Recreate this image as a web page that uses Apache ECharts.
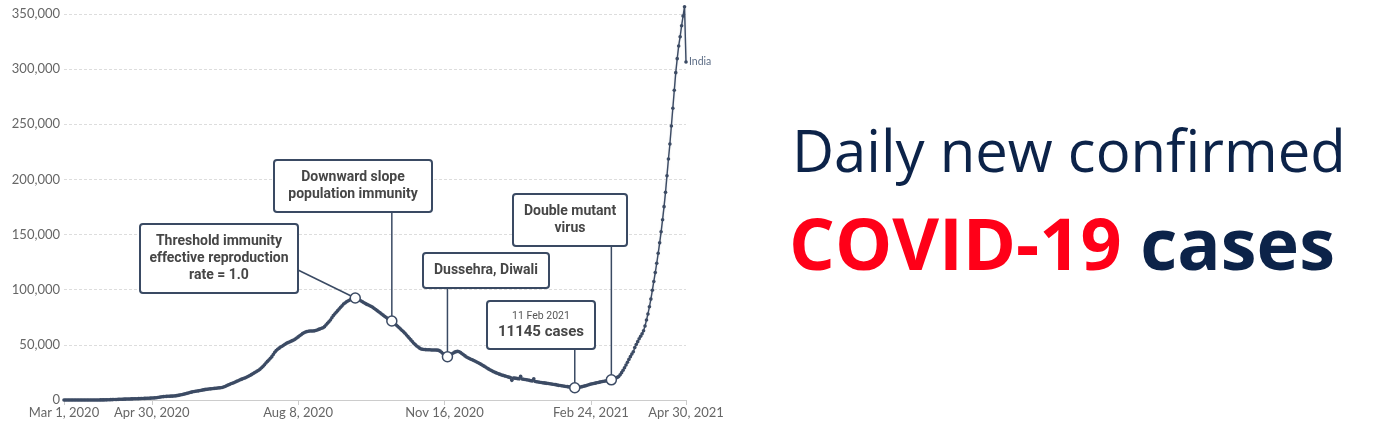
<!DOCTYPE html>
<html>
<head>
<meta charset="utf-8">
<script src="https://cdn.jsdelivr.net/npm/echarts@6/dist/echarts.min.js"></script>
<style>
html,body{margin:0;padding:0;background:#fff;}
#chart{width:1400px;height:425px;}
</style>
</head>
<body>
<div id="chart"></div>
<script>
// ---- Data: 7-day average of daily new confirmed cases, India, one value per day from Mar 1, 2020 ----
const mar2020 = [0,0,1,4,4,4,4,5,6,6,6,7,8,9,10,11,12,13,18,24,29,37,48,56,66,78,94,110,125,140,160];
const apr2020 = [250,300,360,420,470,520,570,620,680,730,780,820,860,900,940,980,1030,1080,1130,1180,1230,1290,1340,1400,1450,1500,1560,1620,1680,1750];
const may2020 = [1850,1950,2100,2300,2550,2750,2950,3100,3200,3300,3400,3450,3500,3550,3600,3750,3950,4200,4450,4700,5000,5350,5700,6050,6400,6750,7100,7450,7700,7900,8100];
const jun2020 = [8300,8600,8900,9150,9400,9600,9800,9950,10100,10250,10400,10550,10700,10850,11000,11150,11400,11800,12300,12900,13500,14100,14700,15200,15700,16300,16900,17500,18100,18700];
const jul2020 = [19200,19700,20200,20800,21500,22200,23000,23800,24600,25400,26200,27000,28000,29200,30500,32000,33500,35000,36300,37800,39300,41300,43300,44800,46000,47000,48000,48800,49600,50500,51500];
const aug2020 = [52000,52600,53200,53800,54400,55200,56200,57200,58200,59200,60200,61000,61600,62000,62300,62500,62600,62600,62700,63000,63500,64000,64500,65000,65500,66500,68000,69500,71000,72500,74500];
const sep2020 = [76500,78000,79500,81000,82500,84000,85500,87000,88000,89000,89800,90500,91200,91800,92300,92500,92200,91500,90700,89800,89000,88200,87400,86700,86100,85500,84800,84000,83000,82000];
const oct2020 = [81000,80000,79000,78000,77000,76000,75000,74000,73200,72400,71600,70500,69300,68000,66800,65500,64300,63000,61800,60500,59000,57500,56000,54500,53000,51500,50200,49000,48000,47000,46200];
const nov2020 = [46000,45800,45700,45600,45500,45500,45400,45400,45300,45300,45200,45000,44300,43200,42000,40800,39700,39300,39600,40500,41600,42600,43400,43900,44100,43800,43000,42000,41000,40000];
const dec2020 = [39000,38300,37600,37000,36400,35800,35200,34500,33800,33100,32300,31500,30700,29900,29000,28200,27400,26700,26000,25400,24800,24200,23700,23200,22700,22300,21900,21500,21100,20700,20300];
const jan2021 = [17800,20000,19800,19600,19400,19200,21500,19000,18800,18600,18400,18100,17800,17500,17200,19200,16800,16500,16300,16100,15900,15700,15500,15300,15100,14900,14700,14500,14300,14100,13900];
const feb2021 = [13500,13300,13100,12900,12700,12500,12300,12100,11900,11700,11500,11300,11145,11200,11350,11550,11800,12100,12400,12800,13200,13600,14000,14400,14700,15000,15300,15600];
const mar2021 = [15900,16200,16500,16800,17000,17200,17400,17600,17900,18300,18800,19300,19900,20500,21200,22900,24800,27000,29300,31700,34200,36800,39300,41600,43800,47500,50300,52900,55500,57800,60000];
const apr2021 = [62800,67100,72500,78000,84500,91500,99500,107500,115500,124000,133000,142500,152500,163500,175300,188300,203400,218500,232100,248400,264500,280800,296800,309500,321000,329400,339400,348200,356600,306500];

const seriesName = 'India';
const firstDay = '2020-03-01';

// x-axis tick positions and labels
const xTickDates  = ['2020-03-01','2020-04-30','2020-08-08','2020-11-16','2021-02-24','2021-04-30'];
const xTickLabels = ['Mar 1, 2020','Apr 30, 2020','Aug 8, 2020','Nov 16, 2020','Feb 24, 2021','Apr 30, 2021'];

// annotations
const annoDates = ['2020-09-16','2020-10-11','2020-11-18','2021-02-13','2021-03-10'];
const annoTexts = [
  'Threshold immunity\neffective reproduction\nrate = 1.0',
  'Downward slope\npopulation immunity',
  'Dussehra, Diwali',
  '{d|11 Feb 2021}\n{c|11145 cases}',
  'Double mutant\nvirus'
];

const titleLine1 = 'Daily new confirmed';
const titleRed = 'COVID-19';
const titleRest = 'cases';

// ---- build ----
function utc(s){ const p = s.split('-').map(Number); return Date.UTC(p[0], p[1]-1, p[2]); }
const day0 = utc(firstDay);
const dayOf = s => Math.round((utc(s) - day0) / 86400000);
const cases = [].concat(mar2020,apr2020,may2020,jun2020,jul2020,aug2020,sep2020,oct2020,nov2020,dec2020,jan2021,feb2021,mar2021,apr2021);
const lineData = cases.map((v,i)=>[i, v]);
const annoData = annoDates.map(s => { const d = dayOf(s); return [d, cases[d]]; });
const xTickDays = xTickDates.map(dayOf);

const lineColor = '#3c4b64';
const chart = echarts.init(document.getElementById('chart'), null, {renderer:'canvas'});

const option = {
  animation: false,
  backgroundColor: '#fff',
  grid: {left: 64, right: 714, top: 14, bottom: 25, containLabel: false},
  xAxis: {
    type: 'value',
    min: xTickDays[0],
    max: xTickDays[xTickDays.length-1],
    axisLine: {show: true, onZero: false, lineStyle: {color: '#cccccc', width: 1}},
    axisTick: {show: true, length: 5, lineStyle: {color: '#cccccc'}, customValues: xTickDays},
    axisLabel: {
      customValues: xTickDays,
      color: '#666666', fontFamily: 'Lato', fontSize: 13, margin: 6,
      formatter: v => { const i = xTickDays.indexOf(Math.round(v)); return i >= 0 ? xTickLabels[i] : ''; }
    },
    splitLine: {show: false}
  },
  yAxis: {
    type: 'value', min: 0, max: 350000, interval: 50000,
    axisLine: {show: false}, axisTick: {show: false},
    axisLabel: {color: '#666666', fontFamily: 'Lato', fontSize: 13, margin: 4,
      formatter: v => v.toLocaleString('en-US')},
    splitLine: {show: true, lineStyle: {color: '#dddddd', type: [3,2], width: 1}}
  },
  series: [
    {
      type: 'line', name: seriesName, data: lineData,
      symbol: 'circle', symbolSize: 3.6, showSymbol: true, showAllSymbol: true,
      lineStyle: {color: lineColor, width: 1.4, shadowColor: 'rgba(60,75,100,0.25)', shadowBlur: 1.5},
      itemStyle: {color: lineColor},
      clip: false, z: 3, silent: true,
      endLabel: {show: true, formatter: seriesName, color: '#5d6d86', fontFamily: 'Lato', fontSize: 10.5, distance: 3},
      emphasis: {disabled: true}
    },
    {
      type: 'scatter', data: annoData, symbol: 'circle', symbolSize: 10,
      itemStyle: {color: '#ffffff', borderColor: lineColor, borderWidth: 1.5, opacity: 1},
      z: 10, silent: true, clip: false, emphasis: {disabled: true}
    }
  ]
};
chart.setOption(option);

// ---- annotation boxes (layout) ----
const boxLayout = [
  {x: 140, y: 224, w: 158, h: 69, anchor: 'right', ay: 270},
  {x: 274, y: 160, w: 158, h: 52, anchor: 'bottom'},
  {x: 423, y: 253, w: 126, h: 35, anchor: 'bottom'},
  {x: 487, y: 301, w: 108, h: 48, anchor: 'bottom'},
  {x: 513, y: 194, w: 114, h: 52, anchor: 'bottom'}
];
const boxColor = '#3a4a63';
const textColor = '#464646';
const graphics = [];
annoData.forEach((d, i) => {
  const p = chart.convertToPixel({seriesIndex: 0}, d);
  const b = boxLayout[i];
  let x1, y1;
  if (b.anchor === 'right') { x1 = b.x + b.w; y1 = b.ay; }
  else { x1 = p[0]; y1 = b.y + b.h; }
  graphics.push({type: 'line', z: 1, silent: true, shape: {x1: x1, y1: y1, x2: p[0], y2: p[1]},
    style: {stroke: boxColor, lineWidth: 1.5}});
  graphics.push({type: 'rect', z: 2, silent: true, shape: {x: b.x, y: b.y, width: b.w, height: b.h, r: 3},
    style: {fill: '#ffffff', stroke: boxColor, lineWidth: 2}});
  graphics.push({type: 'text', z: 3, silent: true, x: b.x + b.w/2, y: b.y + b.h/2,
    style: {text: annoTexts[i], align: 'center', verticalAlign: 'middle',
      fontFamily: 'Roboto', fontSize: 14, fontWeight: 'bold', fill: textColor, lineHeight: 17,
      rich: {
        d: {fontFamily: 'Roboto', fontSize: 10.5, fontWeight: 'normal', fill: '#555555', lineHeight: 15},
        c: {fontFamily: 'Roboto', fontSize: 15, fontWeight: 'bold', fill: textColor, lineHeight: 17}
      }}});
});

// ---- title text ----
graphics.push({type: 'text', silent: true, x: 792, y: 155,
  style: {text: titleLine1, fontFamily: 'Open Sans', fontSize: 58, fontWeight: 'normal',
    fill: '#0c2349', verticalAlign: 'middle', align: 'left'}});
graphics.push({type: 'text', silent: true, x: 789, y: 249,
  style: {text: '{r|' + titleRed + '} {b|' + titleRest + '}', verticalAlign: 'middle', align: 'left',
    fontFamily: 'Open Sans', fontSize: 72, fontWeight: 'bold',
    rich: {
      r: {fontFamily: 'Open Sans', fontSize: 72, fontWeight: 'bold', fill: '#ff0018'},
      b: {fontFamily: 'Open Sans', fontSize: 72, fontWeight: 'bold', fill: '#0c2349'}
    }}});

chart.setOption({graphic: graphics});
</script>
</body>
</html>
